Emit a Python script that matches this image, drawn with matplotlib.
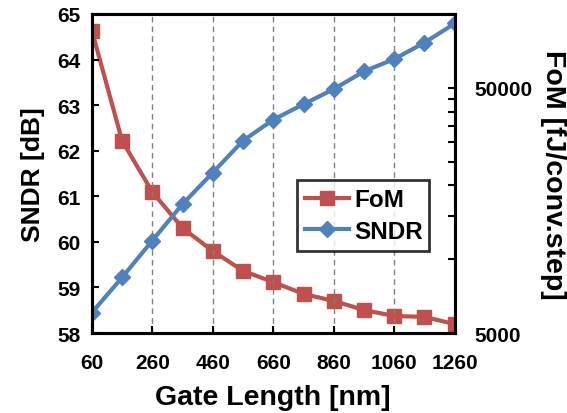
import matplotlib
matplotlib.use("Agg")
import matplotlib.pyplot as plt
from matplotlib.ticker import FixedLocator, NullFormatter, FixedFormatter

plt.rcParams['font.family'] = ['Liberation Sans', 'DejaVu Sans']
plt.rcParams['font.weight'] = 'bold'

gate_length = [60, 160, 260, 360, 460, 560, 660, 760, 860, 960, 1060, 1160, 1260]
sndr = [58.45, 59.22, 60.03, 60.83, 61.52, 62.22, 62.68, 63.02, 63.35, 63.74, 64.01, 64.37, 64.79]
fom = [85500, 30400, 18800, 13400, 10800, 8960, 8070, 7220, 6760, 6210, 5870, 5820, 5440]
x_ticks = [60, 260, 460, 660, 860, 1060, 1260]
sndr_ticks = [58, 59, 60, 61, 62, 63, 64, 65]
fom_major = [5000, 50000]
fom_minor = [10000, 15000, 20000, 25000, 30000, 35000, 40000, 45000, 100000]

red = '#C0504D'
blue = '#4F81BD'

fig = plt.figure(figsize=(5.67, 4.14), dpi=100)
ax = fig.add_axes([0.162, 0.193, 0.640, 0.771])
ax2 = ax.twinx()

ax2.plot(gate_length, fom, color=red, lw=3, marker='s', ms=9.5, label='FoM')
ax2.set_yscale('log')
ax2.set_ylim(5000, 100000)
ax2.yaxis.set_major_locator(FixedLocator(fom_major))
ax2.yaxis.set_major_formatter(FixedFormatter([str(v) for v in fom_major]))
ax2.yaxis.set_minor_locator(FixedLocator(fom_minor))
ax2.yaxis.set_minor_formatter(NullFormatter())

ax.plot(gate_length, sndr, color=blue, lw=3, marker='D', ms=8.5, label='SNDR')
ax.set_zorder(ax2.get_zorder() + 1)
ax.patch.set_visible(False)

ax.set_xlim(60, 1260)
ax.set_ylim(58, 65)
ax.set_xticks(x_ticks)
ax.set_yticks(sndr_ticks)

for xv in x_ticks[1:-1]:
    ax.axvline(xv, color='#808080', lw=1, ls=(0, (4, 3)), zorder=0)

for a in (ax, ax2):
    for s in a.spines.values():
        s.set_linewidth(2.2)
        s.set_color('black')

ax.tick_params(axis='both', which='major', direction='in', length=5, width=1.5, labelsize=15)
ax.tick_params(axis='y', pad=8)
ax.tick_params(axis='x', pad=14)
ax2.tick_params(axis='y', which='major', direction='in', length=5, width=1.5, labelsize=15, pad=14)
ax2.tick_params(axis='y', which='minor', direction='in', length=5, width=1.5)

ax.set_xlabel('Gate Length [nm]', fontsize=20.5, fontweight='bold', labelpad=9)
ax.set_ylabel('SNDR [dB]', fontsize=19, fontweight='bold', labelpad=9)
ax2.set_ylabel('FoM [fJ/conv.step]', fontsize=20.5, fontweight='bold', rotation=270, labelpad=24)

h2, l2 = ax2.get_legend_handles_labels()
h1, l1 = ax.get_legend_handles_labels()
leg = ax.legend(h2 + h1, l2 + l1, loc='lower left', bbox_to_anchor=(0.565, 0.257, 0.363, 0.226),
                mode='expand', fontsize=17.5, frameon=True, fancybox=False, borderpad=0.35,
                handlelength=1.8, handletextpad=0.2, labelspacing=0.35, borderaxespad=0)
leg.get_frame().set_edgecolor('black')
leg.get_frame().set_linewidth(2)

fig.savefig('out.png', dpi=100)
